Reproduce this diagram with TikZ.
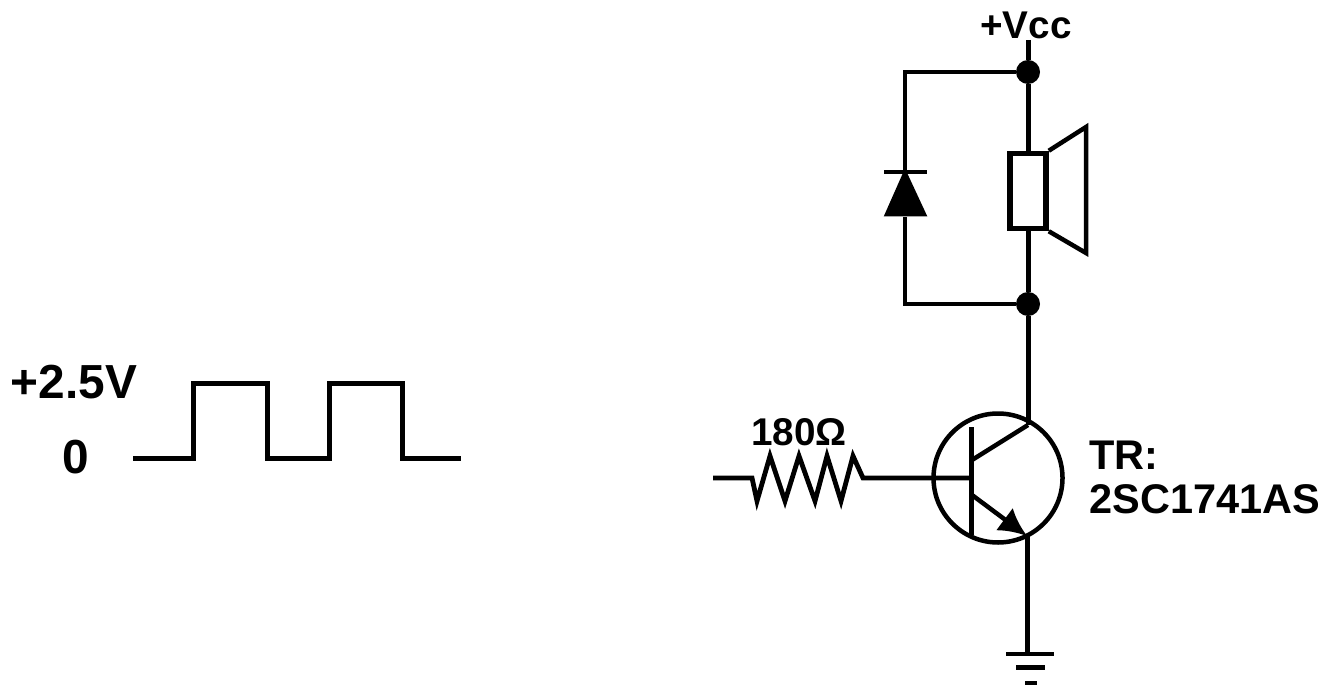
\documentclass[tikz,border=0pt]{standalone}
\usepackage{fontspec}
\setmainfont{Liberation Sans}
\usepackage{tikz}
\usetikzlibrary{arrows.meta}

\begin{document}
\begin{tikzpicture}[line width=0.5mm, line join=miter,
    dotnode/.style={circle, fill=black, inner sep=0pt, outer sep=0pt, minimum size=0.24cm},
    biglabel/.style={font=\fontsize{13.6}{14}\bfseries\selectfont, inner sep=0pt},
    smalllabel/.style={font=\fontsize{11}{12}\bfseries\selectfont, inner sep=0pt},
    partlabel/.style={font=\fontsize{11.8}{14}\bfseries\selectfont, inner sep=0pt, anchor=base west}]
    \useasboundingbox (0,0) rectangle (13.29,6.84);

    \node[biglabel] (high) at (0.74,3.02) {+2.5V};
    \node[biglabel] (low) at (0.76,2.27) {0};
    \coordinate (w0) at (1.33,2.26);
    \coordinate (w1) at (1.93,2.26);
    \coordinate (w2) at (1.93,3.01);
    \coordinate (w3) at (2.67,3.01);
    \coordinate (w4) at (2.67,2.26);
    \coordinate (w5) at (3.29,2.26);
    \coordinate (w6) at (3.29,3.01);
    \coordinate (w7) at (4.02,3.01);
    \coordinate (w8) at (4.02,2.26);
    \coordinate (w9) at (4.61,2.26);
    \draw (w0) to (w1) to (w2) to (w3) to (w4) to (w5) to (w6) to (w7) to (w8) to (w9);

    \node[smalllabel] (vcc) at (10.26,6.59) {+Vcc};
    \coordinate (vcctop) at (10.28,6.44);
    \node[dotnode] (top) at (10.28,6.12) {};
    \node[dotnode] (bottom) at (10.28,3.80) {};
    \coordinate (topleft) at (9.05,6.12);
    \coordinate (bottomleft) at (9.05,3.80);
    \coordinate (diodek) at (9.05,5.12);
    \coordinate (diodea) at (9.05,4.67);
    \coordinate (barl) at (8.84,5.12);
    \coordinate (barr) at (9.27,5.12);
    \coordinate (basel) at (8.86,4.69);
    \coordinate (baser) at (9.25,4.69);
    \draw (vcctop) to (top);
    \draw[line width=0.45mm] (top) to (topleft) to (diodek);
    \draw[line width=0.45mm] (bottom) to (bottomleft) to (diodea);
    \draw[line width=0.4mm] (barl) to (barr);
    \filldraw[line width=0.3mm] (diodek) to (baser) to (basel) to cycle;

    \node[draw, line width=0.55mm, minimum width=0.36cm, minimum height=0.75cm, inner sep=0pt] (coil) at (10.28,4.93) {};
    \coordinate (hornt) at (10.86,5.57);
    \coordinate (hornb) at (10.86,4.31);
    \draw (top) to (coil);
    \draw (coil) to (bottom);
    \draw[line width=0.45mm] (coil.north east) to (hornt) to (hornb) to (coil.south east);

    \node[draw, circle, line width=0.45mm, minimum size=1.29cm, inner sep=0pt] (tr) at (9.98,2.06) {};
    \coordinate (bartop) at (9.71,2.57);
    \coordinate (barbot) at (9.71,1.49);
    \coordinate (basept) at (9.71,2.06);
    \coordinate (cbar) at (9.72,2.24);
    \coordinate (cpin) at (10.28,2.59);
    \coordinate (ebar) at (9.72,1.89);
    \coordinate (epin) at (10.27,1.48);
    \coordinate (gnd) at (10.27,0.30);
    \coordinate (g1l) at (10.06,0.30);
    \coordinate (g1r) at (10.54,0.30);
    \coordinate (g2l) at (10.16,0.17);
    \coordinate (g2r) at (10.45,0.17);
    \coordinate (g3l) at (10.25,0.01);
    \coordinate (g3r) at (10.37,0.01);
    \draw (bottom) to (cpin);
    \draw (bartop) to (barbot);
    \draw[line width=0.45mm] (cbar) to (cpin);
    \draw[-{Latex[length=2.8mm,width=2.8mm]}, line width=0.45mm] (ebar) to (epin);
    \draw (epin) to (gnd);
    \draw[line width=0.45mm] (g1l) to (g1r);
    \draw (g2l) to (g2r);
    \draw (g3l) to (g3r);

    \node[smalllabel] (rlabel) at (7.99,2.52) {180Ω};
    \coordinate (in) at (7.13,2.06);
    \coordinate (r0) at (7.52,2.06);
    \coordinate (r1) at (7.57,1.83);
    \coordinate (r2) at (7.70,2.28);
    \coordinate (r3) at (7.85,1.83);
    \coordinate (r4) at (7.99,2.28);
    \coordinate (r5) at (8.15,1.83);
    \coordinate (r6) at (8.27,2.28);
    \coordinate (r7) at (8.41,1.83);
    \coordinate (r8) at (8.53,2.28);
    \coordinate (r9) at (8.63,2.06);
    \draw[line width=0.48mm] (in) to (r0) to (r1) to (r2) to (r3) to (r4) to (r5) to (r6) to (r7) to (r8) to (r9) to (basept);

    \node[partlabel] (trname) at (10.87,2.15) {TR:};
    \node[partlabel] (trtype) at (10.87,1.71) {2SC1741AS};
\end{tikzpicture}
\end{document}
